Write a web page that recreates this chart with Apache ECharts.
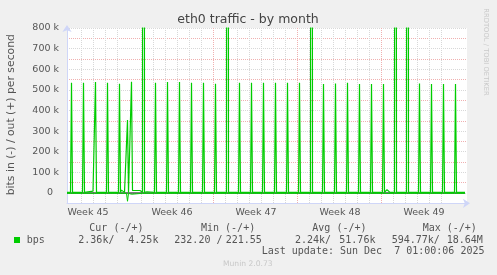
<!DOCTYPE html>
<html><head><meta charset="utf-8">
<script src="https://cdn.jsdelivr.net/npm/echarts@6/dist/echarts.min.js"></script>
<style>html,body{margin:0;padding:0;background:#F0F0F0}#c{width:497px;height:275px}</style>
</head><body><div id="c"></div>
<script>
// x axis unit: hours from the left edge of the plot (2 hours per pixel, 800 h shown)
const dayLineHours = [5,29,53,77,101,149,173,197,221,245,269,317,341,365,389,413,437,485,509,533,557,581,605,653,677,701,725,749,773];
const weekLineHours = [125,293,461,629,797];
const weekLabelHours = [42,210,378,546,714];
const weekLabels = ['Week 45','Week 46','Week 47','Week 48','Week 49'];

// out (+) bits per second
const outHours = [0, 7,9,11, 31,33,35,38,52,54, 55,57,59, 79,81,83, 103,105,107,109,113,115, 119,121,123,
  127,129,131,146,148, 151,153,155,158,160,162,164, 175,177,179, 199,201,203, 223,225,227, 247,249,251,
  271,273,275, 295,297,299, 319,321,323, 343,345,347, 367,369,371, 391,393,395, 408,410,412, 415,417,419,
  439,441,443, 463,465,467, 487,489,491, 511,513,515, 535,537,539, 559,561,563, 583,585,587, 607,609,611,
  631,633,635, 637,640,644,646, 655,657,659, 679,681,683, 703,705,707, 727,729,731, 741,743,745,
  751,753,755, 775,777,779, 796];
const outBps = [3000, 3000,534000,3000, 3000,534000,3000,9000,9000,3000, 3000,538000,3000, 3000,534000,3000,
  3000,530000,3000,14000,14000,3000, 3000,354000,3000,
  3000,539000,12000,12000,3000, 3000,18640000,3000,12000,6000,12000,3000, 3000,534000,3000, 3000,538000,3000,
  3000,538000,3000, 3000,534000,3000,
  3000,534000,3000, 3000,530000,3000, 3000,12000000,3000, 3000,534000,3000, 3000,534000,3000, 3000,534000,3000,
  3000,10000,3000, 3000,534000,3000,
  3000,534000,3000, 3000,534000,3000, 3000,11000000,3000, 3000,528000,3000, 3000,531000,3000, 3000,534000,3000,
  3000,528000,3000, 3000,528000,3000,
  3000,528000,3000, 3000,16000,16000,3000, 3000,10000000,3000, 3000,13000000,3000, 3000,531000,3000,
  3000,528000,3000, 3000,12000,3000,
  3000,528000,3000, 3000,528000,3000, 3000];

// in (-) bits per second, drawn below zero
const inHours = [0, 7,9,11, 31,33,35, 55,57,59, 79,81,83, 103,105,107, 119,121,123, 127,129,131, 151,153,155,
  175,177,179, 199,201,203, 223,225,227, 247,249,251, 271,273,275, 295,297,299, 319,321,323, 343,345,347,
  367,369,371, 391,393,395, 415,417,419, 439,441,443, 463,465,467, 487,489,491, 511,513,515, 535,537,539,
  559,561,563, 583,585,587, 607,609,611, 631,633,635, 655,657,659, 679,681,683, 703,705,707, 727,729,731,
  751,753,755, 775,777,779, 796];
const inBps = [-1500, -1500,-6000,-1500, -1500,-6000,-1500, -1500,-5000,-1500, -1500,-6000,-1500, -1500,-5000,-1500,
  -1500,-40000,-1500, -1500,-6000,-1500, -1500,-6000,-1500,
  -1500,-5000,-1500, -1500,-6000,-1500, -1500,-5000,-1500, -1500,-6000,-1500, -1500,-5000,-1500, -1500,-6000,-1500,
  -1500,-6000,-1500, -1500,-5000,-1500,
  -1500,-6000,-1500, -1500,-5000,-1500, -1500,-6000,-1500, -1500,-5000,-1500, -1500,-6000,-1500, -1500,-6000,-1500,
  -1500,-5000,-1500, -1500,-6000,-1500,
  -1500,-5000,-1500, -1500,-6000,-1500, -1500,-5000,-1500, -1500,-6000,-1500, -1500,-6000,-1500, -1500,-5000,-1500,
  -1500,-6000,-1500, -1500,-5000,-1500,
  -1500,-6000,-1500, -1500,-5000,-1500, -1500];

const zeroHours = [0, 796];
const zeroBps = [0, 0];

const legendHeaders = [['Cur (-/+)', 89.3], ['Min (-/+)', 201], ['Avg (-/+)', 312.3], ['Max (-/+)', 422.7]];
const legendValues = [['bps', 26.7], ['2.36k/', 78.3], ['4.25k', 128.3], ['232.20 /', 174.3], ['221.55', 225.7],
  ['2.24k/', 295], ['51.76k', 339.3], ['594.77k/', 391.7], ['18.64M', 446.7]];
const lastUpdate = 'Last update: Sun Dec  7 01:00:06 2025';

const zip = (a, b) => a.map((v, i) => [v, b[i]]);
const GREEN = '#00CC00';
const AXIS = '#CFD6F8';
const FONT = 'DejaVu Sans';
const MONO = 'DejaVu Sans Mono';

const chart = echarts.init(document.getElementById('c'), null, {renderer: 'canvas'});
const graphics = [
  {type:'text', x:248, y:19.5, style:{text:'eth0 traffic - by month', font:'12.5px "DejaVu Sans"', fill:'#444', align:'center', verticalAlign:'middle'}},
  {type:'text', x:11, y:114.7, rotation:Math.PI/2, style:{text:'bits in (-) / out (+) per second', font:'10.8px "DejaVu Sans"', fill:'#555', align:'center', verticalAlign:'middle'}},
  {type:'text', x:485.5, y:52, rotation:-Math.PI/2, style:{text:'RRDTOOL / TOBI OETIKER', font:'6.8px "DejaVu Sans"', fill:'#c8c8c8', align:'center', verticalAlign:'middle'}},
  {type:'rect', shape:{x:14, y:237, width:6, height:6}, style:{fill:GREEN}},
  {type:'text', x:261.7, y:251.5, style:{text:lastUpdate, font:'10px "DejaVu Sans Mono"', fill:'#555', align:'left', verticalAlign:'middle'}},
  {type:'text', x:223, y:264.5, style:{text:'Munin 2.0.73', font:'7.6px "DejaVu Sans"', fill:'#c8c8c8', align:'left', verticalAlign:'middle'}}
];
legendHeaders.forEach(([t, x]) => graphics.push({type:'text', x:x, y:228, style:{text:t, font:'10px "DejaVu Sans Mono"', fill:'#555', align:'left', verticalAlign:'middle'}}));
legendValues.forEach(([t, x]) => graphics.push({type:'text', x:x, y:240, style:{text:t, font:'10px "DejaVu Sans Mono"', fill:'#555', align:'left', verticalAlign:'middle'}}));

chart.setOption({
  animation: false,
  backgroundColor: '#F0F0F0',
  grid: {left:67, right:30, top:28, bottom:71.69, containLabel:false, outerBoundsMode:'none', show:true, backgroundColor:'#FFFFFF', borderWidth:0},
  xAxis: [
    {type:'value', min:0, max:800, position:'bottom',
     axisLine:{show:true, onZero:false, lineStyle:{color:AXIS, width:1}, symbol:['none','arrow'], symbolSize:[7,7], symbolOffset:[0,3]},
     axisTick:{show:false, customValues:dayLineHours},
     splitLine:{show:true, showMinLine:false, showMaxLine:false, lineStyle:{color:'#d8d8d8', width:1, type:[1,1]}},
     axisLabel:{show:true, customValues:weekLabelHours, formatter:(v) => weekLabels[weekLabelHours.indexOf(v)] || '', color:'#555', fontFamily:FONT, fontSize:9.5, margin:4}
    },
    {type:'value', min:0, max:800, position:'bottom',
     axisLine:{show:false}, axisLabel:{show:false},
     axisTick:{show:false, customValues:weekLineHours},
     splitLine:{show:true, showMinLine:false, showMaxLine:false, lineStyle:{color:'#f0b0b0', width:1, type:[1,1]}}
    }
  ],
  yAxis: {type:'value', min:-50000, max:800000, interval:50000,
    axisLine:{show:true, lineStyle:{color:AXIS, width:1}, symbol:['none','arrow'], symbolSize:[7,7], symbolOffset:[0,3]},
    axisTick:{show:false},
    splitLine:{show:true, showMinLine:false, lineStyle:{color:['#d8d8d8','#f0b0b0'], width:1, type:[1,1]}},
    axisLabel:{margin:8, color:'#555', fontFamily:FONT, fontSize:9.5,
      formatter:(v) => (v < 0 || v % 100000 !== 0) ? '' : (v === 0 ? '{z|0}' : (v/1000) + ' k'),
      rich:{z:{padding:[0,6,0,0], color:'#555', fontFamily:FONT, fontSize:9.5}}}
  },
  series: [
    {type:'line', name:'zero', data:zip(zeroHours, zeroBps), symbol:'none', lineStyle:{color:'#000', width:1}, silent:true, z:2},
    {type:'line', name:'in', data:zip(inHours, inBps), symbol:'none', lineStyle:{color:GREEN, width:1}, silent:true, z:3},
    {type:'line', name:'out', data:zip(outHours, outBps), symbol:'none', lineStyle:{color:GREEN, width:1.2}, silent:true, z:3, clip:true}
  ],
  graphic: graphics
});
</script></body></html>
